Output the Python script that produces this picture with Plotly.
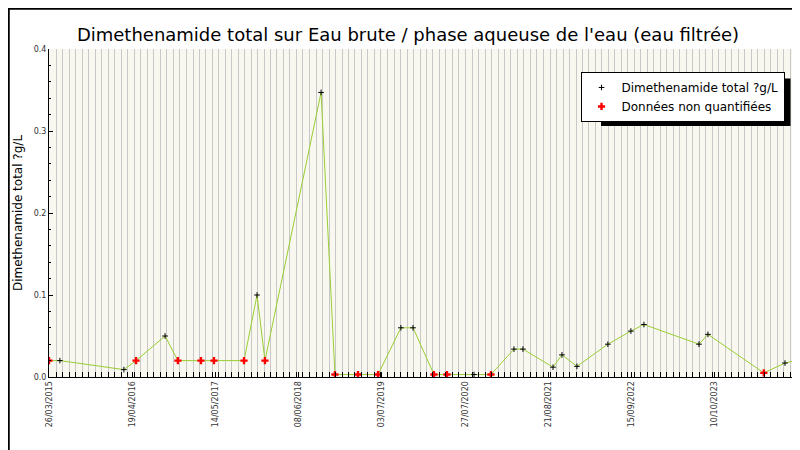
import plotly.graph_objects as go

# measured points (date, value, quantified?)
dates = ["2015-03-26", "2015-05-16", "2016-03-11", "2016-05-07", "2016-09-20",
         "2016-11-19", "2017-03-07", "2017-05-07", "2017-09-25", "2017-11-25",
         "2018-01-01", "2018-09-21", "2018-11-25", "2019-03-13", "2019-06-15",
         "2019-09-30", "2019-11-26", "2020-03-03", "2020-05-03", "2020-09-07",
         "2020-11-25", "2021-03-13", "2021-04-24", "2021-09-12", "2021-10-24",
         "2022-01-02", "2022-05-27", "2022-09-12", "2022-11-12", "2023-07-28",
         "2023-09-08", "2024-05-27", "2024-09-03", "2024-11-03"]
values = [0.02, 0.02, 0.009, 0.02, 0.05,
          0.02, 0.02, 0.02, 0.02, 0.1,
          0.02, 0.347, 0.003, 0.003, 0.003,
          0.06, 0.06, 0.003, 0.003, 0.003,
          0.003, 0.034, 0.034, 0.012, 0.027,
          0.013, 0.04, 0.056, 0.064, 0.04,
          0.052, 0.005, 0.017, 0.021]
non_quant = [1, 0, 0, 1, 0,
             1, 1, 1, 1, 0,
             1, 0, 1, 1, 1,
             0, 0, 1, 1, 0,
             1, 0, 0, 0, 0,
             0, 0, 0, 0, 0,
             0, 1, 0, 0]

tick_dates = ["2015-03-26", "2016-04-19", "2017-05-14", "2018-06-08", "2019-07-03",
              "2020-07-27", "2021-08-21", "2022-09-15", "2023-10-10", "2024-11-03"]
tick_labels = ["26/03/2015", "19/04/2016", "14/05/2017", "08/06/2018", "03/07/2019",
               "27/07/2020", "21/08/2021", "15/09/2022", "10/10/2023", "03/11/2024"]

q_x = [d for d, n in zip(dates, non_quant) if not n]
q_y = [v for v, n in zip(values, non_quant) if not n]
n_x = [d for d, n in zip(dates, non_quant) if n]
n_y = [v for v, n in zip(values, non_quant) if n]

fig = go.Figure()

# ── connecting line ──────────────────────────────────────────────────────────
fig.add_trace(go.Scatter(x=dates, y=values, mode="lines", showlegend=False,
                         line=dict(color="#9acd32", width=1), hoverinfo="skip"))

fig.add_trace(go.Scatter(x=q_x, y=q_y, mode="markers", name="Dimethenamide total ?g/L",
                         marker=dict(symbol="cross-thin", size=4, color="black",
                                     line=dict(color="black", width=1))))
fig.add_trace(go.Scatter(x=n_x, y=n_y, mode="markers", name="Données non quantifiées",
                         marker=dict(symbol="cross", size=6, color="red")))

fig.update_layout(
    width=800, height=450,
    title=dict(text="Dimethenamide total sur Eau brute / phase aqueuse de l'eau (eau filtrée)",
               x=0.5, xanchor="center", y=0.955,
               font=dict(family="DejaVu Sans", size=18, color="black")),
    font=dict(family="DejaVu Sans", size=8, color="#333"),
    paper_bgcolor="white",
    plot_bgcolor="#f8f8f0",
    margin=dict(l=41, r=10, t=41, b=81, autoexpand=False),
    xaxis=dict(
        type="date", automargin=False,
        range=["2015-03-26", "2024-11-03"],
        tickvals=tick_dates, ticktext=tick_labels, tickangle=-90,
        ticks="inside", ticklen=5, tickcolor="black",
        showgrid=False, showline=True, linecolor="black",
        minor=dict(dtick="M1", tick0="2015-03-26", showgrid=True, gridcolor="#c8c8c8",
                   ticks="inside", ticklen=5, tickcolor="black"),
        zeroline=False,
    ),
    yaxis=dict(
        range=[0, 0.4], dtick=0.1, tickformat=".1f", automargin=False,
        title=dict(text="Dimethenamide total ?g/L", standoff=8,
                   font=dict(size=12, color="black")),
        ticks="inside", ticklen=4, tickcolor="black",
        showgrid=False, showline=True, linecolor="black", zeroline=False,
        minor=dict(dtick=0.02, ticks="inside", ticklen=2, tickcolor="black"),
    ),
    legend=dict(x=0.982, y=0.93, xanchor="right", yanchor="top",
                bgcolor="white", bordercolor="black", borderwidth=1,
                font=dict(size=12, color="black")),
    shapes=[dict(type="rect", xref="paper", yref="paper", x0=0.737, x1=0.99,
                 y0=0.765, y1=0.91, fillcolor="black", line_width=0, layer="above"),
            dict(type="rect", xref="paper", yref="paper", x0=-41/749 + 0.001, x1=1 + 10/749 - 0.001,
                 y0=-81/328 + 0.002, y1=1 + 41/328 - 0.002, line=dict(color="black", width=2))],
)

fig.write_html("out.html")
